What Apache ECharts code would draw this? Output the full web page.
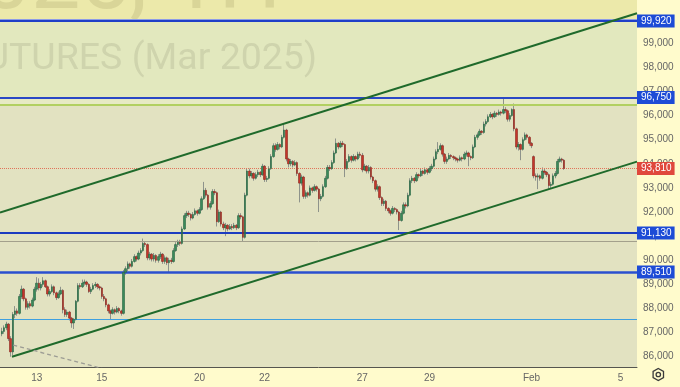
<!DOCTYPE html>
<html><head><meta charset="utf-8">
<script src="https://cdn.jsdelivr.net/npm/echarts@6.0.0/dist/echarts.min.js"></script>
<style>html,body{margin:0;padding:0;background:#fffbcc}#c{width:680px;height:387px}</style>
</head><body><div id="c"></div>
<script>
// hourly candles [open, close, low, high]
const candles = [
[86950,87050,86850,87200],[87050,87200,86950,87300],[87200,87350,87100,87450],[87350,86750,86650,87400],[86750,86200,86000,86850],
[86200,87750,86050,87850],[87750,87900,87600,88100],[87900,87800,87700,88000],[87800,88500,87750,88600],[88500,88800,88400,88950],
[88800,88400,88300,88850],[88400,88050,87950,88450],[88050,88200,87950,88300],[88200,88100,88000,88300],[88100,88350,88050,88450],
[88350,88800,88300,88900],[88800,89050,88700,89300],[89050,88850,88750,89250],[88850,89000,88750,89100],[89000,89150,88900,89300],
[89150,88900,88850,89200],[88900,88600,88500,88950],[88600,88700,88500,88800],[88700,88900,88650,89000],[88900,88650,88550,88950],
[88650,88450,88350,88700],[88450,88600,88400,88700],[88600,88750,88550,88900],[88750,87950,87800,88800],[87950,87750,87650,88050],
[87750,87850,87650,87950],[87850,87600,87500,87900],[87600,87400,87200,87650],[87400,87550,87150,87600],[87550,88300,87500,88350],
[88300,88950,88250,89050],[88950,88900,88800,89050],[88900,89050,88850,89200],[89050,89100,88950,89200],[89100,89000,88900,89150],
[89000,88700,88650,89050],[88700,88800,88600,88900],[88800,88950,88750,89050],[88950,89000,88850,89100],[89000,88900,88800,89050],
[88900,88850,88750,88950],[88850,88500,88400,88900],[88500,88400,88300,88600],[88400,88150,88050,88450],[88150,87900,87800,88200],
[87900,87800,87550,87950],[87800,87950,87750,88050],[87950,87850,87750,88000],[87850,88000,87800,88100],[88000,87900,87800,88050],
[87900,87800,87700,87950],[87800,89500,87750,89600],[89500,89650,89400,89750],[89650,89850,89550,89950],[89850,89750,89650,89900],
[89750,89950,89700,90050],[89950,90150,89900,90250],[90150,90050,89950,90200],[90050,90300,90000,90400],[90300,90400,90200,90500],
[90400,90700,90350,90900],[90700,90650,90550,90800],[90650,90100,90000,90700],[90100,90250,90000,90350],[90250,90050,89950,90300],
[90050,90200,89950,90300],[90200,90000,89900,90250],[90000,90150,89900,90250],[90150,90250,90050,90350],[90250,89950,89850,90300],
[89950,90100,89850,90200],[90100,89900,89800,90150],[89900,90000,89500,90100],[90000,89950,89850,90100],[89950,90400,89900,90500],
[90400,90650,90350,90750],[90650,90750,90550,90850],[90750,90700,90600,90850],[90700,91300,90650,91400],[91300,91850,91250,91950],
[91850,91950,91750,92050],[91950,91900,91800,92050],[91900,91750,91650,91950],[91750,91900,91700,92000],[91900,92050,91850,92150],
[92050,91950,91850,92100],[91950,92100,91900,92200],[92100,92550,92050,92650],[92550,92900,92500,93250],[92900,92700,92600,93000],
[92700,92200,92100,92750],[92200,92350,92100,92450],[92350,92850,92300,92950],[92850,92800,92700,92950],[92800,91600,91400,92850],
[91600,92000,91550,92100],[92000,91500,91400,92050],[91500,91350,91250,91600],[91350,91450,91000,91550],[91450,91300,91200,91500],
[91300,91400,91250,91500],[91400,91350,91250,91500],[91350,91450,91300,91550],[91450,91350,91250,91500],[91350,91850,91300,91950],
[91850,91800,91700,91950],[91800,90950,90800,91850],[90950,92700,90900,92800],[92700,93700,92650,93800],[93700,93500,93400,93800],
[93500,93600,93400,93700],[93600,93400,93300,93650],[93400,93550,93350,93650],[93550,93650,93450,93750],[93650,93550,93450,93700],
[93550,93900,93500,94000],[93900,93350,93250,93950],[93350,93400,93250,93500],[93400,93800,93350,93900],[93800,94300,93750,94400],
[94300,94750,94250,94850],[94750,94600,94500,94850],[94600,94800,94550,94900],[94800,94700,94600,94850],[94700,95100,94650,95200],
[95100,95400,95050,95650],[95400,94200,94100,95450],[94200,94000,93850,94250],[94000,94100,93900,94200],[94100,93950,93850,94150],
[93950,94050,93900,94150],[94050,93600,93500,94100],[93600,93200,92400,93650],[93200,93450,93100,93550],[93450,92650,92550,93500],
[92650,92800,92550,92900],[92800,92700,92600,92850],[92700,93000,92650,93100],[93000,92900,92800,93050],[92900,93050,92850,93150],
[93050,92950,92850,93100],[92950,92550,92000,93000],[92550,92650,92450,92750],[92650,93050,92600,93150],[93050,93400,93000,93500],
[93400,93850,93350,93950],[93850,93800,93700,93950],[93800,94050,93750,94150],[94050,94450,94000,94550],[94450,94850,94400,95050],
[94850,94700,94600,94900],[94700,94850,94650,94950],[94850,94800,94700,94950],[94800,93800,93450,94850],[93800,94100,93750,94200],
[94100,94300,94050,94400],[94300,94150,94050,94350],[94150,94300,94100,94400],[94300,94200,94100,94350],[94200,94400,94150,94500],
[94400,94350,94250,94500],[94350,93750,93650,94450],[93750,93900,93700,94000],[93900,93700,93600,93950],[93700,93850,93600,93950],
[93850,93450,93350,93900],[93450,93300,93200,93500],[93300,92950,92850,93350],[92950,93050,92850,93150],[93050,92600,92500,93100],
[92600,92350,92250,92650],[92350,92450,92250,92550],[92450,92150,92050,92500],[92150,92050,91950,92200],[92050,91950,91850,92100],
[91950,92150,91900,92250],[92150,92100,92000,92200],[92100,92000,91900,92150],[92000,91650,91250,92050],[91650,91950,91600,92050],
[91950,92300,91900,92400],[92300,92250,92150,92400],[92250,92700,92200,92800],[92700,93300,92650,93400],[93300,93400,93200,93500],
[93400,93300,93200,93450],[93300,93550,93250,93650],[93550,93500,93400,93600],[93500,93700,93450,93800],[93700,93600,93500,93750],
[93600,93750,93550,93850],[93750,93650,93550,93800],[93650,93800,93600,93900],[93800,93900,93700,94000],[93900,94200,93850,94300],
[94200,94500,94150,94600],[94500,94600,94400,94900],[94600,94750,94550,94850],[94750,94400,94300,94800],[94400,94100,94000,94450],
[94100,94200,94000,94300],[94200,94350,94150,94450],[94350,94300,94200,94400],[94300,94250,94150,94350],[94250,94200,94100,94300],
[94200,94150,94050,94250],[94150,94250,94100,94350],[94250,94200,94100,94300],[94200,94400,94150,94500],[94400,94450,94300,94550],
[94450,94300,93900,94500],[94300,94250,94150,94350],[94250,94700,94200,94800],[94700,95100,94650,95200],[95100,95200,95000,95300],
[95200,95350,95150,95450],[95350,95300,95200,95400],[95300,95650,95250,95750],[95650,95750,95550,95850],[95750,95950,95700,96050],
[95950,96050,95900,96150],[96050,95950,95850,96100],[95950,96100,95900,96200],[96100,96050,95950,96150],[96050,96150,96000,96250],
[96150,96100,96000,96200],[96100,96250,96050,96700],[96250,96200,96100,96350],[96200,95850,95750,96250],[95850,96000,95750,96100],
[96000,96250,95950,96300],[96250,95450,95350,96500],[95450,94700,94600,95500],[94700,94800,94550,94900],[94800,94600,94150,94850],
[94600,95000,94550,95100],[95000,95200,94950,95300],[95200,95100,95000,95250],[95100,94850,94750,95150],[94850,94750,94650,94900],
[94300,93500,93400,94350],[93500,93450,93300,93600],[93450,93500,92950,93600],[93500,93400,93300,93550],[93400,93700,93350,93850],
[93700,93650,93550,93800],[93650,93550,93450,93700],[93550,93100,92950,93600],[93100,93150,93000,93250],[93150,93500,93100,93600],
[93500,93600,93400,93700],[93600,94100,93550,94200],[94100,94200,94050,94300],[94200,94150,94050,94250],[94150,93810,93750,94200]
];
const dayTicks = [16, 46, 91, 121, 166, 197, 244, 285];
const dayLabels = ['13', '15', '20', '22', '27', '29', 'Feb', '5'];
const priceTicks = [86000,87000,88000,89000,90000,91000,92000,93000,94000,95000,96000,97000,98000,99000];
const keyLevels = [99920, 96750, 91130, 89510];
const lastPrice = 93810;
const bandLevel = 99985;
const greenLevel = 96460;
const greyLevel = 90790;
const skyLevel = 87570;
const upperChannel = [[-0.92, 91980], [292.6, 100245]];
const lowerChannel = [[4.6, 86000], [292.6, 94090]];
const dashedTrend = [[5.2, 86480], [50, 85420]];
const xRange = [-0.92, 292.6];
const yRange = [85573, 100794];
const watermarkTop = '2025, 1H';
const watermarkSub = 'FUTURES (Mar 2025)';

const fmt = v => Number(v).toLocaleString('en-US');
const chart = echarts.init(document.getElementById('c'), null, {renderer: 'canvas'});
const wickData = candles.map((c, i) => [i, c[0], c[1], c[2], c[3]]);
const bodyData = candles.map((c, i) => [i, c[0], c[1], Math.min(c[0], c[1]), Math.max(c[0], c[1])]);
const lblFont = 'Liberation Sans';
const boxLabel = (bg) => ({show: true, position: 'end', distance: 0, formatter: p => fmt(p.value),
  color: '#fff', backgroundColor: bg, padding: [2, 3, 1, 4], fontSize: 10, fontFamily: lblFont});
const hLine = (v, color, width, type) => ({yAxis: v, lineStyle: {color, width, type: type || 'solid'}, label: {show: false}});

chart.setOption({
  backgroundColor: '#fffbcc',
  animation: false,
  title: [
    {text: watermarkTop, left: -68, top: -58, padding: 0, z: 1, silent: true,
      textStyle: {fontSize: 88, fontFamily: 'Roboto', fontWeight: 'normal', color: 'rgba(120,115,60,0.16)'}},
    {text: watermarkSub, right: 363, top: 41, padding: 0, z: 1, silent: true,
      textStyle: {fontSize: 37.5, fontFamily: 'Roboto', fontWeight: 'normal', color: 'rgba(110,115,90,0.17)'}}
  ],
  grid: {left: 0, right: 43, top: 0, bottom: 20, containLabel: false},
  xAxis: {
    type: 'value', min: xRange[0], max: xRange[1],
    axisLine: {show: true, onZero: false, lineStyle: {color: '#55554f', width: 1}},
    axisTick: {show: false, customValues: dayTicks},
    axisLabel: {customValues: dayTicks, formatter: v => dayLabels[dayTicks.indexOf(v)] || '',
      color: '#666', fontSize: 10, fontFamily: lblFont, margin: 6},
    splitLine: {show: true, lineStyle: {color: '#c9d3d8', width: 1}}
  },
  yAxis: {
    type: 'value', position: 'right', min: yRange[0], max: yRange[1], scale: true,
    axisLine: {show: true, lineStyle: {color: '#55554f', width: 1}},
    axisTick: {show: false, customValues: priceTicks},
    axisLabel: {customValues: priceTicks, formatter: v => fmt(v), color: '#666', fontSize: 10, fontFamily: lblFont, margin: 6},
    splitLine: {show: true, lineStyle: {color: '#c9d3d8', width: 1}}
  },
  graphic: [
    {type: 'group', right: 14, bottom: 4, children: [
      {type: 'polygon', shape: {points: [[6,0],[11.2,3],[11.2,9],[6,12],[0.8,9],[0.8,3]]}, style: {fill: 'none', stroke: '#3a3a3a', lineWidth: 1.3}},
      {type: 'circle', shape: {cx: 6, cy: 6, r: 2.2}, style: {fill: 'none', stroke: '#3a3a3a', lineWidth: 1.3}}
    ]}
  ],
  series: [
    {type: 'line', data: [], z: -1, silent: true,
      markArea: {silent: true, data: [
        [{yAxis: yRange[0], itemStyle: {color: '#e2e2c1'}}, {yAxis: greenLevel}],
        [{yAxis: greenLevel, itemStyle: {color: '#e7eac5'}}, {yAxis: keyLevels[1]}],
        [{yAxis: keyLevels[1], itemStyle: {color: '#e2e8be'}}, {yAxis: keyLevels[0]}],
        [{yAxis: keyLevels[0], itemStyle: {color: '#ece9aa'}}, {yAxis: yRange[1]}]
      ]}},
    {type: 'line', data: [], z: 3, silent: true,
      markLine: {silent: true, symbol: 'none', animation: false, data: [
        hLine(bandLevel, '#8d9de6', 2),
        hLine(greenLevel, '#b2d062', 2),
        hLine(greyLevel, '#a3a08c', 1),
        hLine(skyLevel, '#3d9fe0', 1.2),
        hLine(lastPrice, '#e0735a', 1, 'dotted')
      ]}},
    {type: 'candlestick', name: 'wick', data: wickData, encode: {x: 0, y: [1, 2, 3, 4]}, barWidth: 1, z: 4, silent: true,
      itemStyle: {color: '#8e938b', color0: '#8e938b', borderColor: '#8e938b', borderColor0: '#8e938b', borderWidth: 1}},
    {type: 'candlestick', name: 'body', data: bodyData, encode: {x: 0, y: [1, 2, 3, 4]}, barWidth: 2, z: 5, silent: true,
      itemStyle: {color: '#3a8a5a', color0: '#c5352a', borderColor: '#276541', borderColor0: '#8a271f', borderWidth: 0.6}},
    {type: 'line', data: upperChannel, symbol: 'none', clip: true, z: 6, silent: true, lineStyle: {color: '#1f6a2b', width: 2}},
    {type: 'line', data: lowerChannel, symbol: 'none', clip: true, z: 6, silent: true, lineStyle: {color: '#1f6a2b', width: 2}},
    {type: 'line', data: dashedTrend, symbol: 'none', clip: true, z: 6, silent: true, lineStyle: {color: '#9c9c94', width: 1.3, type: [4, 3]}},
    {type: 'line', data: [], z: 7, silent: true,
      markLine: {silent: true, symbol: 'none', animation: false, data: [
        Object.assign(hLine(keyLevels[0], '#1f3fc8', 2), {label: boxLabel('#1d4bd6')}),
        Object.assign(hLine(keyLevels[1], '#2a48c6', 2), {label: boxLabel('#1d4bd6')}),
        Object.assign(hLine(keyLevels[2], '#1c3cc0', 2), {label: boxLabel('#1d4bd6')}),
        Object.assign(hLine(keyLevels[3], '#2a4fcf', 2.5), {label: boxLabel('#1d4bd6')}),
        Object.assign(hLine(lastPrice, 'rgba(0,0,0,0)', 0), {label: boxLabel('#e0483c')})
      ]}}
  ]
});
</script></body></html>
